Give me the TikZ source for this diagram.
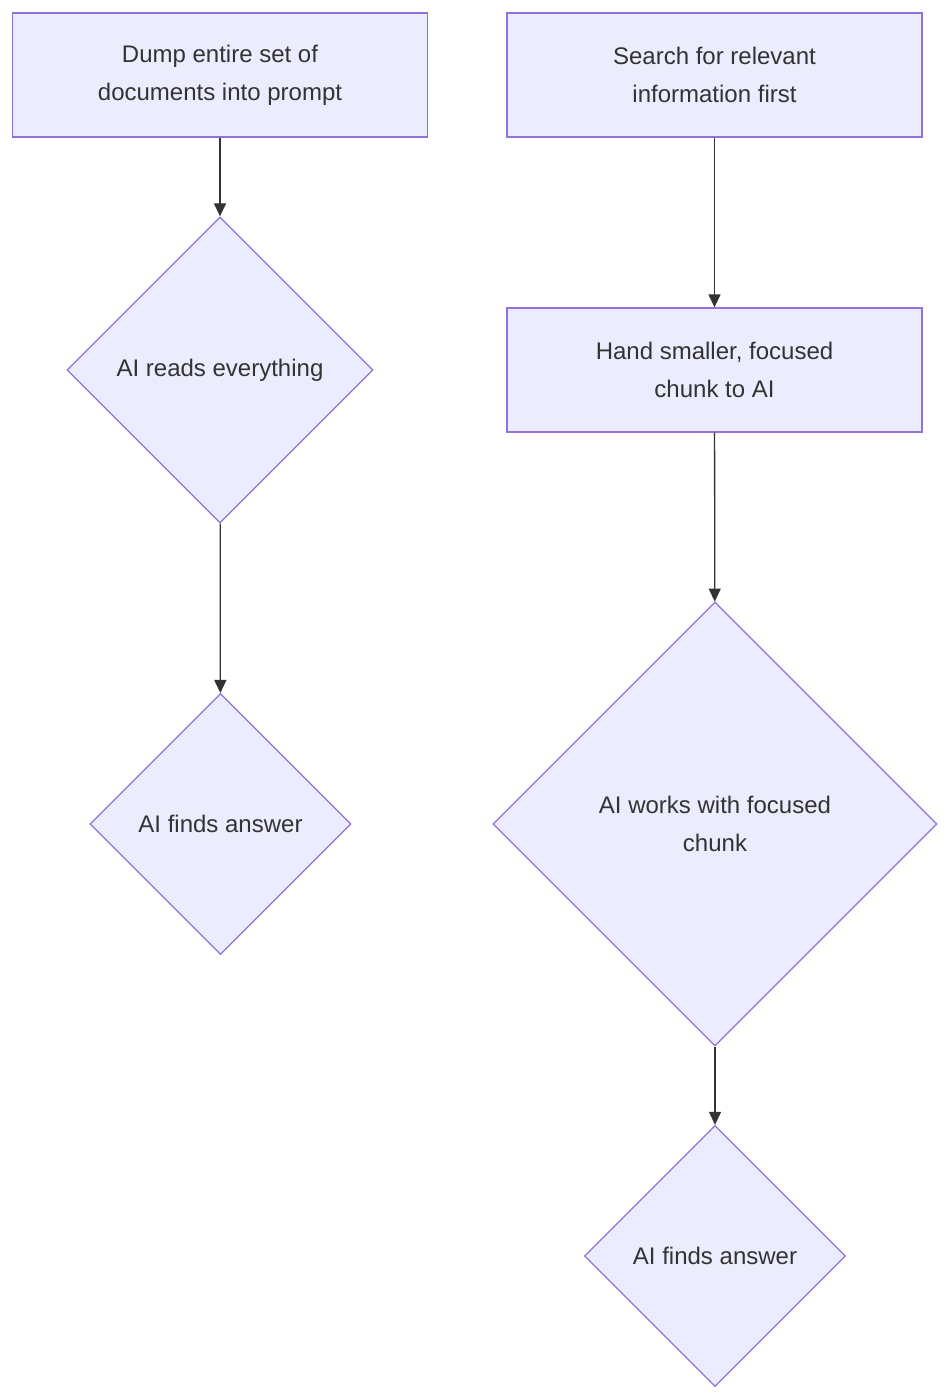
\documentclass[tikz,border=0pt]{standalone}
\usepackage{fontspec}
\setmainfont{Liberation Sans}
\usetikzlibrary{shapes.geometric,arrows.meta}
\definecolor{mfill}{HTML}{ECECFF}
\definecolor{mstroke}{HTML}{9370DB}
\definecolor{mtext}{HTML}{333333}
\begin{document}
\begin{tikzpicture}[x=1pt,y=-1pt,
  base/.style={draw=mstroke,fill=mfill,line width=1.3pt,text=mtext,align=center,inner sep=0pt,font=\fontsize{24}{38}\selectfont},
  box/.style={base,rectangle,minimum width=415pt,minimum height=124pt},
  dia/.style={base,diamond,minimum width=#1,minimum height=#1},
  arr/.style={draw=mtext,line width=1.3pt,-{Triangle[length=13pt,width=12pt]}}]
\useasboundingbox (0,0) rectangle (950,1399);
\node[box] (b1) at (220,75) {Dump entire set of\\documents into prompt};
\node[box] (b2) at (714.5,75) {Search for relevant\\information first};
\node[box] (b3) at (714.5,370) {Hand smaller, focused\\chunk to AI};
\node[dia=306pt] (d1) at (220,370) {AI reads everything};
\node[dia=261pt] (d2) at (220.5,824) {AI finds answer};
\node[dia=444pt] (d3) at (715,824) {AI works with focused\\chunk};
\node[dia=261pt] (d4) at (715,1256) {AI finds answer};
\draw[arr] (b1) -- (d1);
\draw[arr] (d1) -- (d2);
\draw[arr] (b2) -- (b3);
\draw[arr] (b3) -- (d3);
\draw[arr] (d3) -- (d4);
\end{tikzpicture}
\end{document}
